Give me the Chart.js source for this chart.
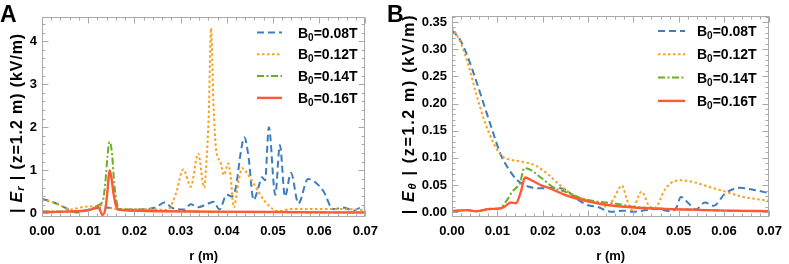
<!DOCTYPE html>
<html>
<head>
<meta charset="utf-8">
<script src="https://cdn.jsdelivr.net/npm/chart.js@4"></script>
<style>
  html, body { margin: 0; padding: 0; background: #fff; }
  #wrap { position: relative; width: 789px; height: 264px; }
  canvas { position: absolute; top: 0; }
</style>
</head>
<body>
<div id="wrap">
  <canvas id="chartA" width="385" height="264" style="left:0"></canvas>
  <canvas id="chartB" width="404" height="264" style="left:385px"></canvas>
</div>
<script>
// field strengths of the four series
const fieldLabels = ['0.08T', '0.12T', '0.14T', '0.16T'];
const xTicks = [0, 0.01, 0.02, 0.03, 0.04, 0.05, 0.06, 0.07];
const yTicksA = [0, 1, 2, 3, 4];
const yTicksB = [0, 0.05, 0.10, 0.15, 0.20, 0.25, 0.30, 0.35];

// panel A: |E_r| (kV/m) vs r (m)
const rA_008 = [0, 0.0021, 0.0039, 0.0057, 0.0075, 0.0097, 0.0118, 0.0145, 0.0168, 0.0211, 0.0247, 0.0265, 0.0283, 0.0308, 0.0322, 0.0338, 0.0354, 0.0372, 0.0384, 0.0400, 0.0411, 0.0420, 0.0430, 0.0438, 0.0447, 0.0458, 0.0469, 0.0476, 0.0483, 0.0491, 0.0505, 0.0515, 0.0526, 0.0539, 0.0555, 0.0576, 0.0594, 0.0610, 0.0630, 0.0655, 0.0673, 0.0690, 0.0700];
const eA_008 = [0.34, 0.27, 0.19, 0.09, 0.02, 0.08, 0.12, 0.13, 0.09, 0.09, 0.14, 0.25, 0.12, 0.09, 0.21, 0.14, 0.20, 0.27, 0.09, 0.43, 0.39, 0.62, 1.40, 1.77, 1.32, 0.31, 0.62, 0.84, 0.77, 2.00, 0.43, 1.59, 0.39, 0.94, 0.23, 0.80, 0.70, 0.50, 0.10, 0.13, 0.06, 0.13, 0.13];
const rA_012 = [0, 0.0021, 0.0040, 0.0060, 0.0089, 0.0118, 0.0129, 0.0145, 0.0168, 0.0211, 0.0250, 0.0268, 0.0276, 0.0290, 0.0306, 0.0322, 0.0338, 0.0351, 0.0356, 0.0361, 0.0366, 0.0371, 0.0377, 0.0386, 0.0394, 0.0403, 0.0408, 0.0415, 0.0426, 0.0433, 0.0444, 0.0462, 0.0483, 0.0500, 0.0512, 0.0540, 0.0610, 0.0683, 0.0700];
const eA_012 = [0.31, 0.26, 0.18, 0.09, 0.15, 0.17, 0.19, 0.13, 0.10, 0.10, 0.09, 0.08, 0.12, 0.46, 1.02, 0.62, 1.39, 0.60, 1.20, 2.30, 4.30, 2.60, 1.47, 1.20, 0.89, 1.16, 0.89, 0.14, 0.77, 1.05, 0.93, 0.62, 0.27, 0.10, 0.05, 0.10, 0.10, 0.09, 0.07];
const rA_014 = [0, 0.0050, 0.0100, 0.0122, 0.0132, 0.0137, 0.0142, 0.0146, 0.0151, 0.0157, 0.0165, 0.0175, 0.0220, 0.0300, 0.0400, 0.0500, 0.0600, 0.0700];
const eA_014 = [0.04, 0.04, 0.07, 0.19, 0.30, 0.70, 1.35, 1.66, 1.45, 0.62, 0.14, 0.09, 0.07, 0.05, 0.03, 0.03, 0.02, 0.02];
const rA_016 = [0, 0.0050, 0.0090, 0.0104, 0.0122, 0.0131, 0.0138, 0.0142, 0.0146, 0.0150, 0.0155, 0.0161, 0.0168, 0.0200, 0.0250, 0.0350, 0.0500, 0.0700];
const eA_016 = [0.03, 0.04, 0.06, 0.08, 0.14, -0.04, 0.15, 0.55, 1.00, 0.85, 0.45, 0.15, 0.08, 0.06, 0.05, 0.04, 0.03, 0.02];

// panel B: |E_theta| (kV/m) vs r (m)
const rB_008 = [0, 0.0018, 0.0036, 0.0054, 0.0072, 0.0090, 0.0108, 0.0126, 0.0144, 0.0170, 0.0198, 0.0227, 0.0242, 0.0256, 0.0278, 0.0300, 0.0321, 0.0350, 0.0379, 0.0400, 0.0429, 0.0451, 0.0480, 0.0494, 0.0505, 0.0520, 0.0538, 0.0558, 0.0577, 0.0603, 0.0635, 0.0667, 0.0700];
const eB_008 = [0.335, 0.317, 0.283, 0.240, 0.194, 0.148, 0.105, 0.078, 0.059, 0.047, 0.044, 0.045, 0.044, 0.038, 0.023, 0.013, 0.010, 0.001, 0.003, 0.001, 0.004, 0.006, 0.002, 0.007, 0.028, 0.018, 0.005, 0.018, 0.012, 0.035, 0.045, 0.041, 0.035];
const rB_012 = [0, 0.0018, 0.0036, 0.0054, 0.0072, 0.0090, 0.0108, 0.0123, 0.0155, 0.0184, 0.0213, 0.0234, 0.0256, 0.0285, 0.0321, 0.0343, 0.0357, 0.0375, 0.0386, 0.0397, 0.0418, 0.0436, 0.0447, 0.0469, 0.0483, 0.0505, 0.0530, 0.0566, 0.0603, 0.0639, 0.0700];
const eB_012 = [0.341, 0.314, 0.271, 0.216, 0.167, 0.130, 0.105, 0.098, 0.093, 0.086, 0.069, 0.053, 0.038, 0.026, 0.0165, 0.0103, 0.026, 0.049, 0.0226, 0.004, 0.038, 0.0103, 0.008, 0.041, 0.054, 0.059, 0.056, 0.047, 0.038, 0.029, 0.021];
const rB_014 = [0, 0.0032, 0.0054, 0.0083, 0.0105, 0.0119, 0.0133, 0.0144, 0.0150, 0.0159, 0.0173, 0.0198, 0.0227, 0.0249, 0.0285, 0.0321, 0.0357, 0.0400, 0.0451, 0.0520, 0.0600, 0.0700];
const eB_014 = [0.002, 0.004, 0.002, 0.006, 0.007, 0.0195, 0.038, 0.047, 0.053, 0.081, 0.078, 0.0625, 0.044, 0.038, 0.026, 0.0196, 0.0165, 0.0103, 0.007, 0.005, 0.003, 0.002];
const rB_016 = [0, 0.0032, 0.0054, 0.0083, 0.0105, 0.0115, 0.0130, 0.0141, 0.0152, 0.0161, 0.0177, 0.0198, 0.0213, 0.0249, 0.0285, 0.0321, 0.0357, 0.0429, 0.0520, 0.0600, 0.0700];
const eB_016 = [0.002, 0.004, 0.002, 0.006, 0.007, 0.010, 0.018, 0.0165, 0.038, 0.064, 0.058, 0.049, 0.045, 0.032, 0.023, 0.0165, 0.012, 0.0074, 0.005, 0.003, 0.002];

const colors = ['#3c7dc0', '#f7a21c', '#6cae22', '#ff5a36'];
const dashes = [[7, 4], [2.5, 2.5], [7, 2.5, 2, 2.5], []];
const FONT = "'Liberation Sans', Arial, sans-serif";

const toPoints = (r, e) => r.map((x, i) => ({ x: x, y: e[i] }));

function buildDatasets(rs, es) {
  return rs.map((r, i) => ({
    label: 'B\u2080=' + fieldLabels[i],
    data: toPoints(r, es[i]),
    borderColor: colors[i],
    borderDash: dashes[i],
    borderWidth: i === 3 ? 2.4 : 2,
    order: 3 - i
  }));
}

// frame with inward ticks, legend, rotated y title and panel letter
const framePlugin = {
  id: 'frame',
  afterDraw(chart, args, opts) {
    const { ctx, chartArea: a, scales: { x, y } } = chart;
    ctx.save();
    ctx.strokeStyle = '#a9a9a9';
    ctx.lineWidth = 1;
    const L = Math.round(a.left) + 0.5, R = Math.round(a.right) - 0.5;
    const T = Math.round(a.top) + 0.5, B = Math.round(a.bottom) - 0.5;
    ctx.strokeRect(L, T, R - L, B - T);

    ctx.beginPath();
    for (let i = Math.ceil(x.min / opts.minorX - 1e-6); i * opts.minorX <= x.max + 1e-9; i++) {
      const px = Math.round(x.getPixelForValue(i * opts.minorX)) + 0.5;
      const len = i % 5 === 0 ? 6 : 3;
      ctx.moveTo(px, B); ctx.lineTo(px, B - len);
      ctx.moveTo(px, T); ctx.lineTo(px, T + len);
    }
    for (let i = Math.ceil(y.min / opts.minorY - 1e-6); i * opts.minorY <= y.max + 1e-9; i++) {
      const py = Math.round(y.getPixelForValue(i * opts.minorY)) + 0.5;
      const len = i % 5 === 0 ? 6 : 3;
      ctx.moveTo(L, py); ctx.lineTo(L + len, py);
      ctx.moveTo(R, py); ctx.lineTo(R - len, py);
    }
    ctx.stroke();

    // legend
    const lg = opts.legend;
    chart.data.datasets.forEach((ds, i) => {
      const ly = lg.y0 + i * lg.dy;
      ctx.beginPath();
      ctx.strokeStyle = ds.borderColor;
      ctx.lineWidth = ds.borderWidth;
      ctx.setLineDash(ds.borderDash);
      ctx.moveTo(lg.x0, ly); ctx.lineTo(lg.x1, ly);
      ctx.stroke();
      ctx.setLineDash([]);
      ctx.fillStyle = '#000';
      ctx.textBaseline = 'alphabetic';
      ctx.textAlign = 'left';
      let tx = lg.tx;
      ctx.font = 'bold 14px ' + FONT;
      ctx.fillText('B', tx, ly + 5);
      tx += ctx.measureText('B').width;
      ctx.font = 'bold 10px ' + FONT;
      ctx.fillText('0', tx, ly + 8);
      tx += ctx.measureText('0').width;
      ctx.font = 'bold 14px ' + FONT;
      ctx.fillText('=' + fieldLabels[i], tx, ly + 5);
    });

    // y title with italic E and subscript
    const t = opts.yTitle;
    const parts = [
      { s: '| ', f: 'bold 16px ' + FONT, dy: 0 },
      { s: 'E', f: 'italic bold 16px ' + FONT, dy: 0 },
      { s: t.sub, f: 'italic bold 11px ' + FONT, dy: 3 },
      { s: ' | (z=1.2 m) (kV/m)', f: 'bold 16px ' + FONT, dy: 0 }
    ];
    ctx.letterSpacing = t.spacing + 'px';
    let total = 0;
    parts.forEach(p => { ctx.font = p.f; p.w = ctx.measureText(p.s).width; total += p.w; });
    ctx.translate(t.x, t.y);
    ctx.rotate(-Math.PI / 2);
    ctx.fillStyle = '#000';
    ctx.textBaseline = 'middle';
    let px = -total / 2;
    parts.forEach(p => { ctx.font = p.f; ctx.fillText(p.s, px, p.dy); px += p.w; });
    ctx.setTransform(1, 0, 0, 1, 0, 0);
    ctx.letterSpacing = '0px';

    // panel letter
    ctx.font = 'bold 23px ' + FONT;
    ctx.textBaseline = 'alphabetic';
    ctx.fillText(opts.letter, opts.letterX, 22);
    ctx.restore();
  }
};

function makeChart(id, datasets, cfg) {
  const tickFont = { family: FONT, size: 13, weight: 'bold' };
  return new Chart(document.getElementById(id), {
    type: 'line',
    data: { datasets: datasets },
    options: {
      responsive: false,
      animation: false,
      devicePixelRatio: 1,
      layout: { padding: { left: 0, right: cfg.padRight, top: cfg.padTop, bottom: 0 } },
      elements: {
        point: { radius: 0 },
        line: { cubicInterpolationMode: 'monotone', fill: false }
      },
      scales: {
        x: {
          type: 'linear', min: 0, max: 0.07,
          afterBuildTicks: s => { s.ticks = xTicks.map(v => ({ value: v })); },
          afterFit: s => { s.height = 47; },
          grid: { display: false, drawTicks: false },
          border: { display: false },
          ticks: { color: '#000', font: tickFont, padding: 7, maxRotation: 0, autoSkip: false,
                   callback: v => v.toFixed(2) },
          title: { display: true, text: 'r (m)', color: '#000', font: tickFont, padding: { top: 0, bottom: 0 } }
        },
        y: {
          type: 'linear', min: cfg.yMin, max: cfg.yMax,
          afterBuildTicks: s => { s.ticks = cfg.yTicks.map(v => ({ value: v })); },
          afterFit: s => { s.width = cfg.yWidth; },
          grid: { display: false, drawTicks: false },
          border: { display: false },
          ticks: { color: '#000', font: tickFont, padding: 5, autoSkip: false, callback: cfg.yFmt }
        }
      },
      plugins: {
        legend: { display: false },
        tooltip: { enabled: false },
        frame: cfg.frame
      }
    },
    plugins: [framePlugin]
  });
}

makeChart('chartA', buildDatasets([rA_008, rA_012, rA_014, rA_016], [eA_008, eA_012, eA_014, eA_016]), {
  yMin: -0.085, yMax: 4.56, yTicks: yTicksA, yWidth: 42, padRight: 17, padTop: 17,
  yFmt: v => String(v),
  frame: {
    minorX: 0.002, minorY: 0.2, letter: 'A', letterX: 0,
    yTitle: { x: 18, y: 123, sub: 'r', spacing: 0.9 },
    legend: { x0: 257, x1: 282, tx: 298, y0: 32.5, dy: 21.8 }
  }
});

makeChart('chartB', buildDatasets([rB_008, rB_012, rB_014, rB_016], [eB_008, eB_012, eB_014, eB_016]), {
  yMin: -0.0087, yMax: 0.361, yTicks: yTicksB, yWidth: 67, padRight: 14, padTop: 16,
  yFmt: v => v.toFixed(2),
  frame: {
    minorX: 0.002, minorY: 0.01, letter: 'B', letterX: 2,
    yTitle: { x: 25, y: 114, sub: '\u03b8', spacing: 1.7 },
    legend: { x0: 273, x1: 300, tx: 312, y0: 31, dy: 23.3 }
  }
});
</script>
</body>
</html>
